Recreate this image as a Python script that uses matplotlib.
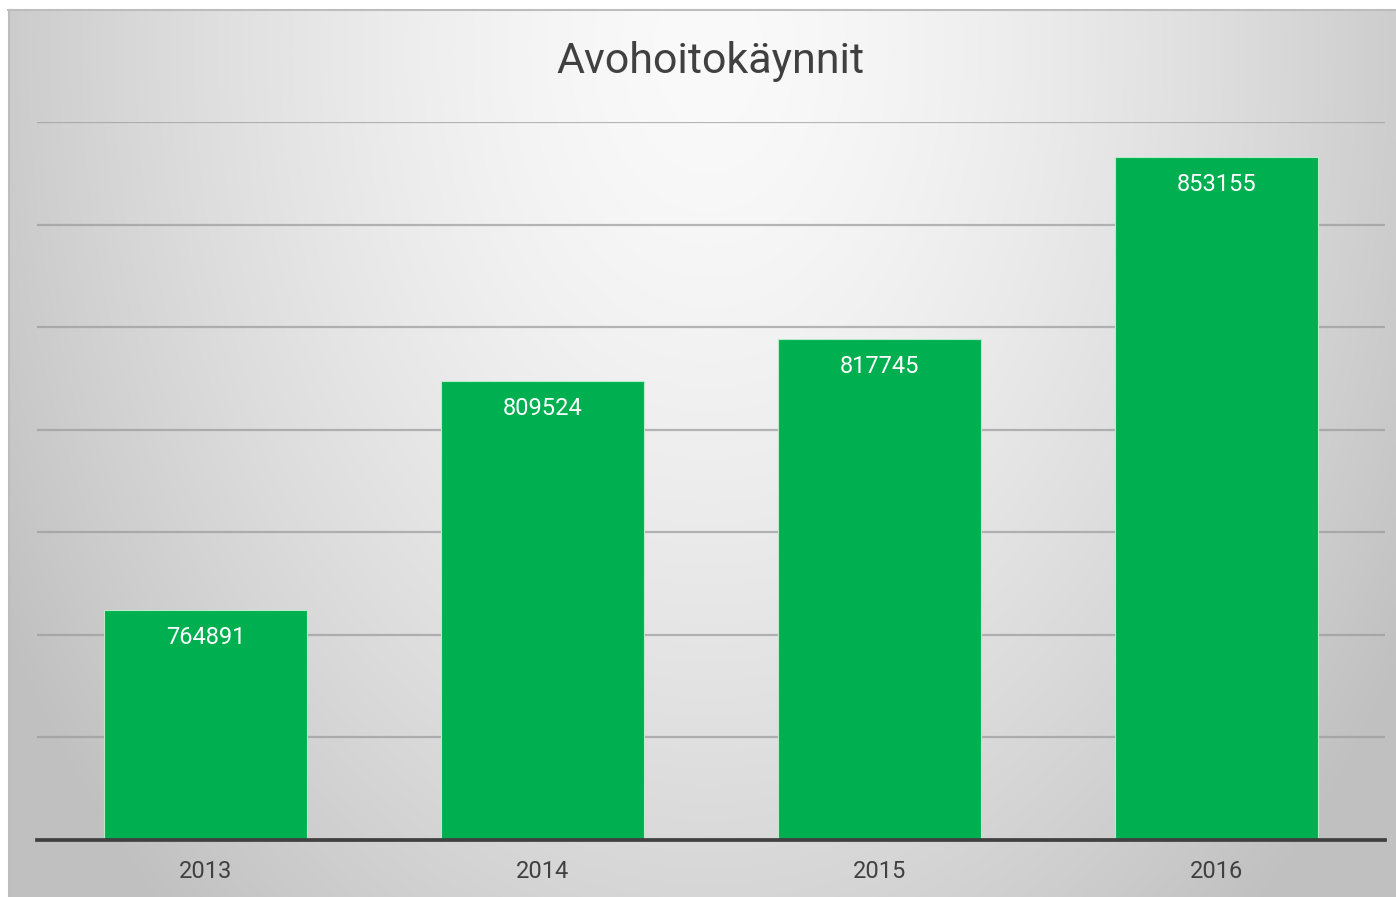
import numpy as np
import matplotlib
matplotlib.use("Agg")
import matplotlib.pyplot as plt
from matplotlib import font_manager

# data
years = ["2013", "2014", "2015", "2016"]
visits = [764891, 809524, 817745, 853155]
title = "Avohoitokäynnit"

# narrow font if we have it
fam = "DejaVu Sans"
for f in ["Liberation Sans Narrow", "Roboto", "Liberation Sans"]:
    try:
        font_manager.findfont(f, fallback_to_default=False)
        fam = f
        break
    except Exception:
        pass
plt.rcParams["font.family"] = [fam, "DejaVu Sans"]

W, H = 1396, 897
fig = plt.figure(figsize=(W / 100, H / 100), dpi=100)
fig.patch.set_facecolor("white")

# radial gradient background of the chart area
bg = fig.add_axes([8 / W, 0, (W - 8) / W, (H - 10) / H])
yy, xx = np.mgrid[0:887, 0:1388]
r = np.sqrt(((xx - 700) / 700.0) ** 2 + ((yy - 40) / 1000.0) ** 2)
shade = np.clip(250 - 46 * r ** 1.5, 192, 250) / 255.0
bg.imshow(np.dstack([shade, shade, shade]), aspect="auto", interpolation="bilinear")
bg.set_axis_off()
fig.add_artist(plt.Line2D([8 / W, 1], [(H - 10.5) / H] * 2, color="#bdbdbd", lw=1.5))
fig.add_artist(plt.Line2D([8.5 / W] * 2, [0, (H - 10) / H], color="#bdbdbd", lw=1.5))

ax = fig.add_axes([37 / W, 57 / H, (1385 - 37) / W, (840 - 122) / H])
ax.patch.set_alpha(0)
x = np.arange(len(years))
bars = ax.bar(x, visits, width=0.605, color="#00B050", edgecolor="#b8ecc8",
              linewidth=0.8, zorder=3)
ax.set_xlim(-0.5, len(years) - 0.5)
ax.set_ylim(720000, 860000)
ax.set_yticks(np.arange(740000, 860001, 20000))
ax.yaxis.grid(True, color="#9a9a9a", alpha=0.7, lw=1.6, zorder=1)
ax.set_axisbelow(True)
ax.tick_params(axis="y", left=False, labelleft=False)
ax.tick_params(axis="x", bottom=False, labelsize=17, labelcolor="#404040", pad=11)
ax.set_xticks(x)
ax.set_xticklabels(years)
for s in ax.spines.values():
    s.set_visible(False)
ax.axhline(720000, color="#404040", lw=2.7, zorder=4, clip_on=False)

for xi, v in zip(x, visits):
    ax.annotate(str(v), (xi, v), xytext=(0, -20), textcoords="offset points",
                ha="center", va="center", color="white", fontsize=17, zorder=5)

fig.text(710 / W, (H - 62) / H, title, ha="center", va="center",
         fontsize=31, color="#404040")

fig.savefig("out.png", dpi=100)
